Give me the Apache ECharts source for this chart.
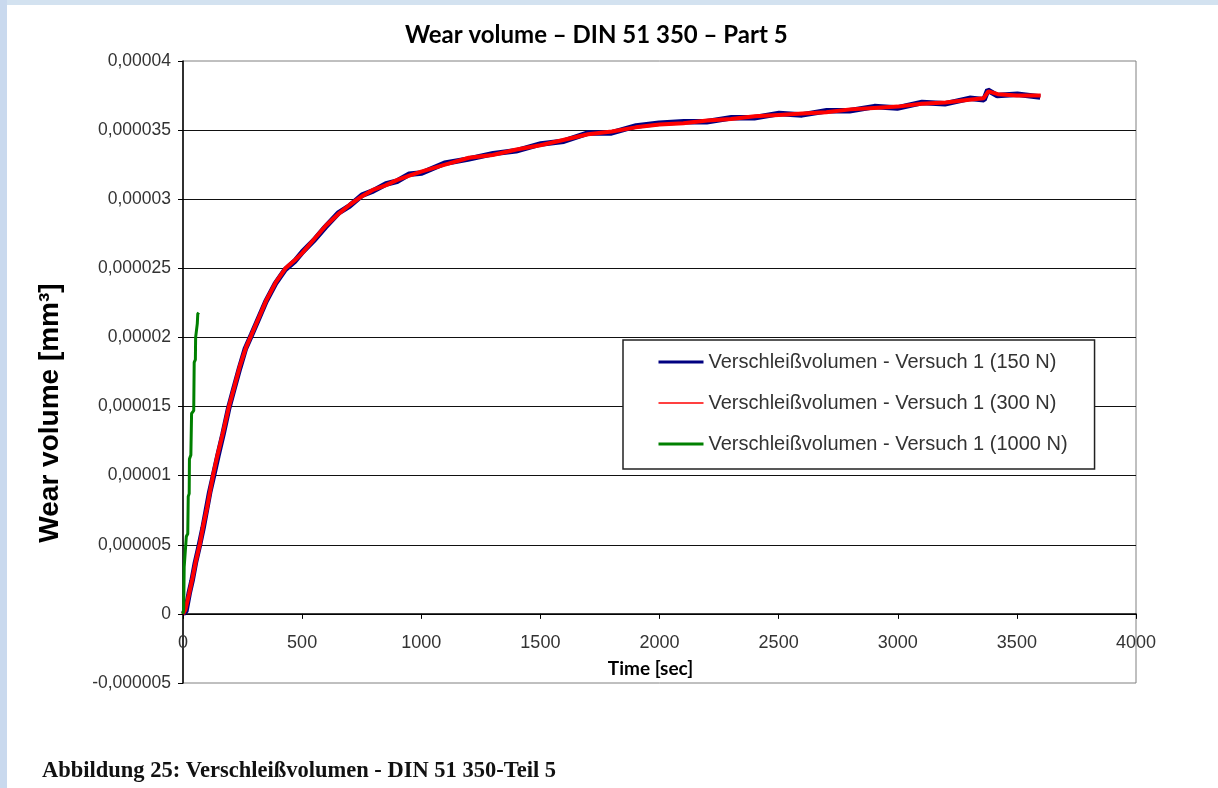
<!DOCTYPE html>
<html>
<head>
<meta charset="utf-8">
<title>Wear volume – DIN 51 350 – Part 5</title>
<script src="https://cdn.jsdelivr.net/npm/echarts@6/dist/echarts.min.js"></script>
<style>
  html, body { margin: 0; padding: 0; background: #fff; }
  #chart { position: absolute; left: 0; top: 0; width: 1218px; height: 788px; background: #fff; }
  .strip { position: absolute; background: #d3e2f0; pointer-events: none; }
</style>
</head>
<body>
<div id="chart"></div>
<div class="strip" style="left:0;top:0;width:1218px;height:5px"></div>
<div class="strip" style="left:0;top:0;width:7px;height:788px;background:#c9d9ee"></div>
<script>
// Zeit [s] / Verschleißvolumen [mm³]
const seriesNames = [
  'Verschleißvolumen - Versuch 1 (150 N)',
  'Verschleißvolumen - Versuch 1 (300 N)',
  'Verschleißvolumen - Versuch 1 (1000 N)'
]

const wear150 = [
  [0, 0], [12, 0.2e-6], [26, 1.5e-6], [38, 2.4e-6], [52, 3.7e-6], [68, 4.9e-6],
  [84, 6.2e-6], [98, 7.5e-6], [112, 8.8e-6], [128, 1.0e-5], [146, 1.14e-5],
  [168, 1.3e-5], [192, 1.49e-5], [214, 1.63e-5], [238, 1.78e-5], [262, 1.92e-5],
  [288, 2.02e-5], [318, 2.14e-5], [348, 2.26e-5], [388, 2.39e-5], [428, 2.49e-5],
  [468, 2.55e-5], [502, 2.62e-5], [548, 2.7e-5], [598, 2.8e-5], [652, 2.9e-5],
  [698, 2.95e-5], [752, 3.03e-5], [798, 3.06e-5], [852, 3.11e-5], [898, 3.13e-5],
  [948, 3.18e-5], [1002, 3.19e-5], [1098, 3.26e-5], [1196, 3.29e-5], [1302, 3.33e-5],
  [1398, 3.35e-5], [1502, 3.4e-5], [1598, 3.42e-5], [1702, 3.48e-5], [1798, 3.48e-5],
  [1902, 3.53e-5], [1998, 3.55e-5], [2102, 3.56e-5], [2198, 3.56e-5], [2302, 3.59e-5],
  [2398, 3.59e-5], [2502, 3.62e-5], [2598, 3.61e-5], [2702, 3.64e-5], [2798, 3.64e-5],
  [2902, 3.67e-5], [2998, 3.66e-5], [3102, 3.7e-5], [3198, 3.69e-5], [3302, 3.73e-5],
  [3362, 3.72e-5], [3378, 3.79e-5], [3418, 3.75e-5], [3502, 3.76e-5], [3598, 3.74e-5]
]

const wear300 = [
  [0, 0], [10, 0.3e-6], [25, 1.4e-6], [40, 2.6e-6], [55, 3.9e-6], [70, 5.0e-6],
  [85, 6.4e-6], [100, 7.6e-6], [115, 9.0e-6], [126, 1.0e-5], [145, 1.15e-5],
  [165, 1.29e-5], [193, 1.5e-5], [215, 1.64e-5], [240, 1.8e-5], [265, 1.93e-5],
  [290, 2.03e-5], [320, 2.15e-5], [350, 2.27e-5], [390, 2.4e-5], [430, 2.5e-5],
  [470, 2.56e-5], [500, 2.61e-5], [550, 2.71e-5], [600, 2.81e-5], [650, 2.89e-5],
  [700, 2.96e-5], [750, 3.02e-5], [800, 3.07e-5], [850, 3.1e-5], [900, 3.14e-5],
  [950, 3.17e-5], [1000, 3.2e-5], [1100, 3.25e-5], [1200, 3.3e-5], [1300, 3.32e-5],
  [1400, 3.36e-5], [1500, 3.39e-5], [1600, 3.43e-5], [1700, 3.47e-5], [1800, 3.49e-5],
  [1900, 3.52e-5], [2000, 3.54e-5], [2100, 3.55e-5], [2200, 3.57e-5], [2300, 3.58e-5],
  [2400, 3.6e-5], [2500, 3.61e-5], [2600, 3.62e-5], [2700, 3.63e-5], [2800, 3.65e-5],
  [2900, 3.66e-5], [3000, 3.67e-5], [3100, 3.69e-5], [3200, 3.7e-5], [3300, 3.72e-5],
  [3360, 3.73e-5], [3380, 3.78e-5], [3420, 3.76e-5], [3500, 3.75e-5], [3600, 3.75e-5]
]

const wear1000 = [
  [0, 0], [3, 0.4e-6], [5, 3.4e-6], [12, 3.5e-6], [14, 5.6e-6], [20, 5.8e-6],
  [22, 8.5e-6], [26, 8.7e-6], [27, 1.12e-5], [33, 1.15e-5], [36, 1.45e-5],
  [45, 1.47e-5], [47, 1.82e-5], [52, 1.84e-5], [53, 2.0e-5], [60, 2.1e-5],
  [62, 2.17e-5], [66, 2.18e-5]
]

const xTickLabels = ['0', '500', '1000', '1500', '2000', '2500', '3000', '3500', '4000']
const yTickLabels = ['-0,000005', '0', '0,000005', '0,00001', '0,000015', '0,00002',
  '0,000025', '0,00003', '0,000035', '0,00004']

const xMin = 0
const xMax = 4000
const xStep = 500
const yMin = -0.000005
const yMax = 0.00004
const yStep = 0.000005

const gridTop = 61
const gridBottom = 105
// x-Achse sitzt bei y = 0: Abstand von der unteren Kante des Plotbereichs
const plotHeight = 788 - gridTop - gridBottom
const zeroOffset = -plotHeight * (0 - yMin) / (yMax - yMin)

const chart = echarts.init(document.getElementById('chart'))

const option = {
  animation: false,
  backgroundColor: '#fff',
  title: [{
    text: 'Wear volume – DIN 51 350 – Part 5',
    left: 385,
    top: 10,
    padding: [11, 49, 11, 20],
    backgroundColor: '#fff',
    textStyle: {
      fontFamily: 'Lato',
      fontWeight: 'bold',
      fontSize: 24,
      lineHeight: 28,
      color: '#000'
    }
  }, {
    text: 'Abbildung 25: Verschleißvolumen - DIN 51 350-Teil 5',
    left: 37,
    top: 755,
    textStyle: {
      fontFamily: 'Liberation Serif',
      fontWeight: 'bold',
      fontSize: 22.5,
      color: '#111'
    }
  }],
  legend: {
    orient: 'vertical',
    left: 623,
    top: 340,
    padding: [12, 27, 15, 34],
    itemWidth: 45,
    itemHeight: 14,
    itemGap: 21,
    backgroundColor: '#fff',
    borderColor: '#222',
    borderWidth: 1.5,
    borderRadius: 0,
    itemStyle: { opacity: 0 },
    textStyle: {
      fontFamily: 'Liberation Sans',
      fontSize: 20,
      color: '#333'
    },
    data: [
      { name: seriesNames[0], lineStyle: { width: 3, opacity: 1 } },
      { name: seriesNames[1], lineStyle: { width: 1.5, opacity: 1 } },
      { name: seriesNames[2], lineStyle: { width: 3, opacity: 1 } }
    ]
  },
  grid: {
    left: 183,
    right: 82,
    top: gridTop,
    bottom: gridBottom,
    show: true,
    borderColor: '#808080',
    borderWidth: 1,
    backgroundColor: 'transparent',
    containLabel: false,
    outerBoundsMode: 'none'
  },
  xAxis: {
    type: 'value',
    min: xMin,
    max: xMax,
    interval: xStep,
    offset: zeroOffset,
    name: 'Time [sec]',
    nameLocation: 'middle',
    nameGap: 45,
    nameTextStyle: {
      fontFamily: 'Lato',
      fontWeight: 'bold',
      fontSize: 19,
      color: '#000',
      padding: [0, 18, 0, 0]
    },
    axisLine: { show: true, onZero: false, lineStyle: { color: '#000', width: 1.5 } },
    axisTick: { show: true, inside: false, length: 5, lineStyle: { color: '#000' } },
    axisLabel: {
      margin: 20,
      fontFamily: 'Liberation Sans',
      fontSize: 18,
      color: '#333',
      showMinLabel: true,
      showMaxLabel: true,
      formatter: (v) => xTickLabels[Math.round((v - xMin) / xStep)]
    },
    splitLine: { show: false }
  },
  yAxis: {
    type: 'value',
    min: yMin,
    max: yMax,
    interval: yStep,
    axisLine: { show: true, lineStyle: { color: '#000', width: 1.5 } },
    axisTick: { show: true, inside: false, length: 5, lineStyle: { color: '#000' } },
    axisLabel: {
      margin: 12,
      fontFamily: 'Liberation Sans',
      fontSize: 17.5,
      color: '#333',
      showMinLabel: true,
      showMaxLabel: true,
      formatter: (v) => yTickLabels[Math.round((v - yMin) / yStep)]
    },
    splitLine: {
      show: true,
      showMinLine: false,
      showMaxLine: false,
      lineStyle: { color: '#111', width: 1.2 }
    }
  },
  graphic: [{
    type: 'text',
    x: 50,
    y: 413,
    rotation: Math.PI / 2,
    style: {
      text: 'Wear volume [mm³]',
      align: 'center',
      verticalAlign: 'middle',
      font: 'bold 28px "Liberation Sans"',
      fill: '#000'
    }
  }],
  series: [{
    name: seriesNames[0],
    type: 'line',
    data: wear150,
    symbol: 'none',
    lineStyle: { color: '#000080', width: 5.5 },
    itemStyle: { color: '#000080' }
  }, {
    name: seriesNames[1],
    type: 'line',
    data: wear300,
    symbol: 'none',
    lineStyle: { color: '#ff0000', width: 4 },
    itemStyle: { color: '#ff0000' }
  }, {
    name: seriesNames[2],
    type: 'line',
    data: wear1000,
    symbol: 'none',
    lineStyle: { color: '#008000', width: 3 },
    itemStyle: { color: '#008000' }
  }]
}

chart.setOption(option)
</script>
</body>
</html>
